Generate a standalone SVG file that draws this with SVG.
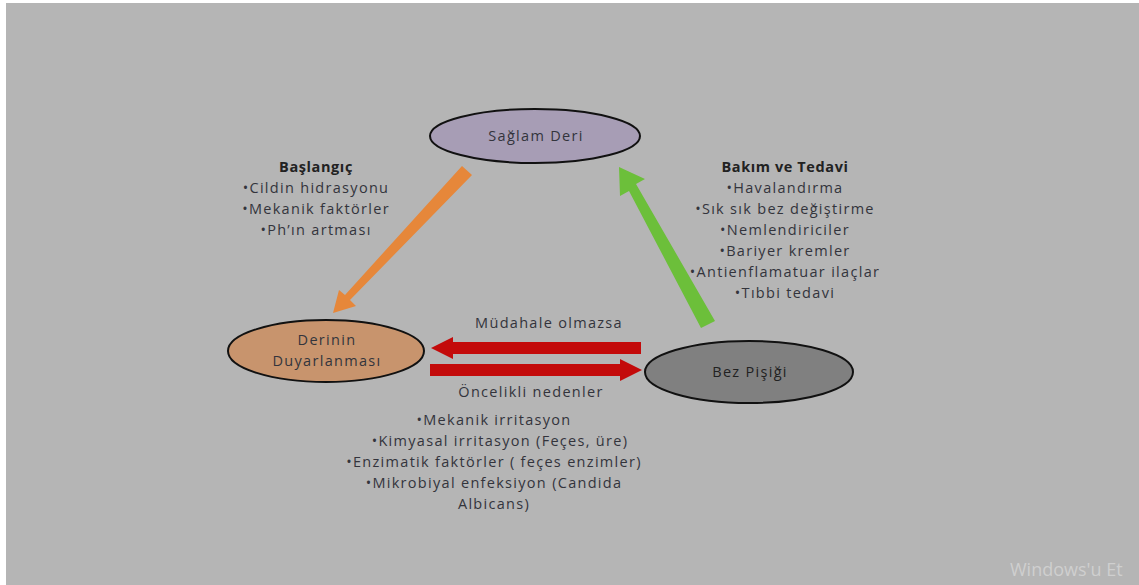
<svg xmlns="http://www.w3.org/2000/svg" width="1139" height="585" viewBox="0 0 1139 585">
<defs>
<style>
text{font-family:"Open Sans","Liberation Sans",sans-serif;font-size:14.5px;letter-spacing:1.3px;fill:#33343c;text-anchor:middle}
.b{font-weight:bold;fill:#222;letter-spacing:0.6px}
.node{stroke:#111;stroke-width:2}
.wm{fill:#cfcfcf;font-size:18px;text-anchor:start;letter-spacing:0}
</style>
</defs>
<rect x="0" y="0" width="1139" height="585" fill="#ffffff"/>
<rect x="6" y="3" width="1133" height="582" fill="#b5b5b5"/>
<g id="connectors">
<polygon points="462,166 472,175 350,300 356,306 333,313 339,290 345,295" fill="#e6873a"/>
<polygon points="701,328 715,321 636,184 645,179 619,167 620,196 629,191" fill="#6cbf3a"/>
<polygon points="641,342 453,342 453,337 431,348 453,359 453,354 641,354" fill="#c30a0a"/>
<polygon points="430,364 620,364 620,359 642,370 620,381 620,376 430,376" fill="#c30a0a"/>
<text x="549" y="328">Müdahale olmazsa</text>
<text x="531" y="397">Öncelikli nedenler</text>
</g>
<g id="saglam-deri">
<ellipse cx="535" cy="136" rx="105" ry="27" fill="#a79db5" class="node"/>
<text x="536" y="141">Sağlam Deri</text>
</g>
<g id="derinin-duyarlanmasi">
<ellipse cx="326" cy="351" rx="98" ry="31" fill="#c8946d" class="node"/>
<text x="327" y="345">Derinin</text>
<text x="327" y="366">Duyarlanması</text>
</g>
<g id="bez-pisigi">
<ellipse cx="749" cy="372" rx="104" ry="31" fill="#808080" class="node"/>
<text x="750" y="377" style="fill:#222">Bez Pişiği</text>
</g>
<g id="baslangic">
<text x="316" y="172" class="b">Başlangıç</text>
<text x="316" y="193">•Cildin hidrasyonu</text>
<text x="316" y="214">•Mekanik faktörler</text>
<text x="316" y="235">•Ph’ın artması</text>
</g>
<g id="bakim">
<text x="785" y="172" class="b">Bakım ve Tedavi</text>
<text x="785" y="193">•Havalandırma</text>
<text x="785" y="214">•Sık sık bez değiştirme</text>
<text x="785" y="235">•Nemlendiriciler</text>
<text x="785" y="256">•Bariyer kremler</text>
<text x="785" y="277">•Antienflamatuar ilaçlar</text>
<text x="785" y="298">•Tıbbi tedavi</text>
</g>
<g id="nedenler">
<text x="494" y="425">•Mekanik irritasyon</text>
<text x="500" y="446">•Kimyasal irritasyon (Feçes, üre)</text>
<text x="494" y="467">•Enzimatik faktörler ( feçes enzimler)</text>
<text x="494" y="488">•Mikrobiyal enfeksiyon (Candida</text>
<text x="494" y="509">Albicans)</text>
</g>
<text x="1010" y="576" class="wm">Windows'u Et</text>
</svg>
